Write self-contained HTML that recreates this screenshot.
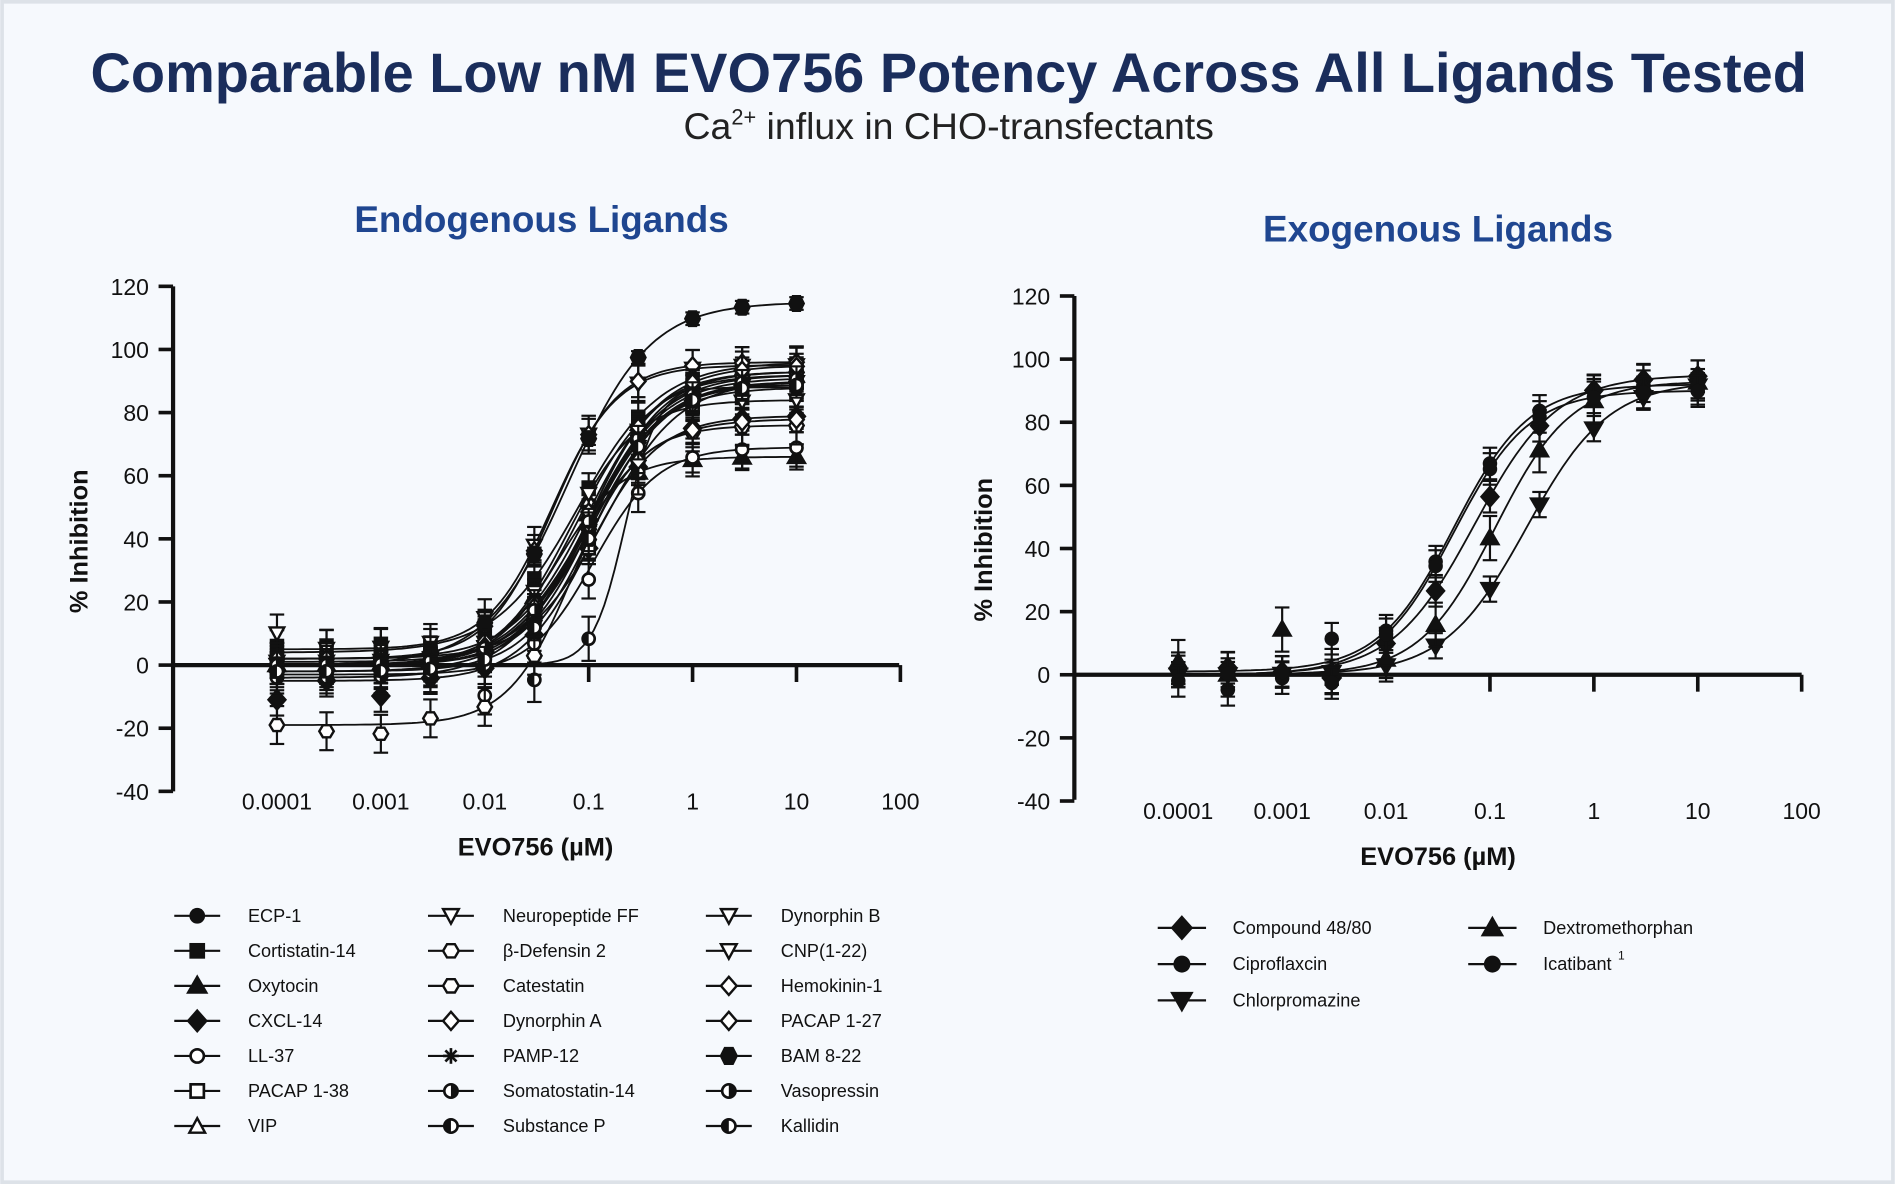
<!DOCTYPE html>
<html><head><meta charset="utf-8">
<style>
html,body{margin:0;padding:0;background:#f6f9fd;}
svg{display:block;}
text{font-family:"Liberation Sans",Arial,sans-serif;}
</style></head>
<body>
<svg id="s" width="1895" height="1184" viewBox="0 0 1568 980" xmlns="http://www.w3.org/2000/svg">
<rect x="1.5" y="1.5" width="1565" height="977" fill="#f6f9fd" stroke="#dde2e8" stroke-width="3"/>
<text x="785" y="76" text-anchor="middle" font-size="46.3" font-weight="bold" fill="#1a2d5b">Comparable Low nM EVO756 Potency Across All Ligands Tested</text>
<text x="785" y="115" text-anchor="middle" font-size="31" fill="#222">Ca<tspan font-size="18" dy="-12">2+</tspan><tspan dy="12"> influx in CHO-transfectants</tspan></text>
<text x="448" y="192" text-anchor="middle" font-size="30.5" font-weight="bold" fill="#1f4690">Endogenous Ligands</text>
<text x="1190" y="200" text-anchor="middle" font-size="30.5" font-weight="bold" fill="#1f4690">Exogenous Ligands</text>
<g id="g1"></g><g id="g2"></g><g id="leg"></g>
</svg>
<script>
const NS="http://www.w3.org/2000/svg";
function el(p,tag,a,txt){const e=document.createElementNS(NS,tag);for(const k in a)e.setAttribute(k,a[k]);if(txt!==undefined)e.textContent=txt;p.appendChild(e);return e;}
function marker(p,type,x,y,r){
 r=r||6;const k='#111';
 const poly=(pts,f)=>el(p,'polygon',{points:pts.map(q=>q.join(',')).join(' '),fill:f,stroke:k,'stroke-width':2});
 switch(type){
 case 'c':el(p,'circle',{cx:x,cy:y,r:r,fill:k});break;
 case 'oc':el(p,'circle',{cx:x,cy:y,r:r-1,fill:'#fff',stroke:k,'stroke-width':2.2});break;
 case 's':el(p,'rect',{x:x-r,y:y-r,width:2*r,height:2*r,fill:k});break;
 case 'os':el(p,'rect',{x:x-r+1,y:y-r+1,width:2*r-2,height:2*r-2,fill:'#fff',stroke:k,'stroke-width':2.2});break;
 case 't':poly([[x,y-r-1],[x+r+1,y+r-1],[x-r-1,y+r-1]],k);break;
 case 'ot':poly([[x,y-r],[x+r,y+r-1],[x-r,y+r-1]],'#fff');break;
 case 'dt':poly([[x,y+r+1],[x+r+1,y-r+1],[x-r-1,y-r+1]],k);break;
 case 'odt':poly([[x,y+r],[x+r,y-r+1],[x-r,y-r+1]],'#fff');break;
 case 'd':poly([[x,y-r-2],[x+r+1,y],[x,y+r+2],[x-r-1,y]],k);break;
 case 'od':poly([[x,y-r-1],[x+r,y],[x,y+r+1],[x-r,y]],'#fff');break;
 case 'h':poly([[x-r,y],[x-r/2,y-r],[x+r/2,y-r],[x+r,y],[x+r/2,y+r],[x-r/2,y+r]],k);break;
 case 'oh':poly([[x-r,y],[x-r/2,y-r+1],[x+r/2,y-r+1],[x+r,y],[x+r/2,y+r-1],[x-r/2,y+r-1]],'#fff');break;
 case 'st':for(let a=0;a<4;a++){const an=a*Math.PI/4;el(p,'line',{x1:x-r*Math.cos(an),y1:y-r*Math.sin(an),x2:x+r*Math.cos(an),y2:y+r*Math.sin(an),stroke:k,'stroke-width':2.2});}break;
 case 'hc':el(p,'circle',{cx:x,cy:y,r:r-1,fill:'#fff',stroke:k,'stroke-width':2.2});el(p,'path',{d:`M${x},${y-r+1} A${r-1},${r-1} 0 0 1 ${x},${y+r-1} Z`,fill:k});break;
 case 'hc2':el(p,'circle',{cx:x,cy:y,r:r-1,fill:'#fff',stroke:k,'stroke-width':2.2});el(p,'path',{d:`M${x},${y-r+1} A${r-1},${r-1} 0 0 0 ${x},${y+r-1} Z`,fill:k});break;
 }
}
function chart(gid,ox,y0,yTop,yBot,dec0,series,axisEnd,labY){
 const g=document.getElementById(gid);
 const py=v=>y0-(v)*(y0-yTop)/120;
 const px=l=>dec0+(l+4)*86;
 el(g,'line',{x1:ox,y1:yTop,x2:ox,y2:yBot,stroke:'#111','stroke-width':3.5});
 for(let v=-40;v<=120;v+=20){const y=py(v);el(g,'line',{x1:ox-12,y1:y,x2:ox,y2:y,stroke:'#111','stroke-width':3});
  el(g,'text',{x:ox-20,y:y+7,'text-anchor':'end','font-size':19,fill:'#111'},String(v));}
 el(g,'line',{x1:ox,y1:y0,x2:axisEnd,y2:y0,stroke:'#111','stroke-width':3.5});
 const labs=['0.0001','0.001','0.01','0.1','1','10','100'];
 for(let i=0;i<7;i++){const x=px(i-4);if(i>=3)el(g,'line',{x1:x,y1:y0,x2:x,y2:y0+14,stroke:'#111','stroke-width':3});
  el(g,'text',{x:x,y:labY,'text-anchor':'middle','font-size':19,fill:'#111'},labs[i]);}
 const xs=[-4,-3.523,-3,-2.523,-2,-1.523,-1,-0.523,0,0.477,1];
 for(const s of series){
  const [b,t,ic,h,type]=s;const f=l=>b+(t-b)/(1+Math.pow(10,(ic-l)*h));
  let d='';for(let l=-4;l<=1.001;l+=0.05){d+=(d?'L':'M')+px(l).toFixed(1)+','+py(f(l)).toFixed(1);}
  el(g,'path',{d:d,fill:'none',stroke:'#111','stroke-width':1.5});
  xs.forEach((l,i)=>{const v=f(l)+(s[5]?s[5][i]:0);const x=px(l),y=py(v);const e=s[6]||4;
   el(g,'line',{x1:x,y1:py(v-e),x2:x,y2:py(v+e),stroke:'#111','stroke-width':1.8});
   el(g,'line',{x1:x-6,y1:py(v+e),x2:x+6,y2:py(v+e),stroke:'#111','stroke-width':1.8});
   el(g,'line',{x1:x-6,y1:py(v-e),x2:x+6,y2:py(v-e),stroke:'#111','stroke-width':1.8});
   marker(g,type,x,y,6);});
 }
}
const N=[0,0,0,0,0,0,0,0,0,0,0];
const L=[
 [0,93,-1.0,1.3,'c',N,4],[4,96,-1.1,1.1,'s',[2,2,2,0,0,0,0,0,0,0,0],5],[0,66,-1.3,1.4,'t',N,4],
 [-5,79,-1.0,1.3,'d',[-6,0,-5,0,0,0,0,0,0,0,0],5],[-3,69,-0.95,1.4,'oc',[0,0,0,0,-9,0,-3,0,0,0,0],6],
 [2,90,-0.85,1.2,'os',N,5],[0,92,-1.1,1.2,'ot',N,4],[5,95,-1.35,1.4,'odt',[5,0,0,0,0,0,0,0,0,0,0],6],
 [-2,90,-1.0,1.2,'oh',N,4],[0,93,-0.95,1.3,'oh',N,4],[2,96,-1.35,1.4,'od',N,5],[0,92,-1.0,1.2,'st',N,4],
 [-4,88,-1.05,1.2,'hc',N,4],[0,88,-0.65,2.8,'hc2',[0,0,0,0,0,-5,0,0,0,0,0],7],[-19,76,-1.15,1.4,'oh',[0,-2,-3,1,0,0,0,0,0,0,0],6],
 [0,84,-1.2,1.3,'odt',N,4],[1,90,-0.95,1.2,'odt',N,4],[2,95,-1.0,1.2,'od',N,4],[0,78,-1.1,1.2,'od',N,4],
 [0,115,-1.2,1.1,'h',N,2],[0,91,-1.0,1.2,'hc',N,4],[-2,89,-0.95,1.3,'hc2',N,4]
];
chart('g1',143,550.5,237,655,229,L,744,670);
const R=[
 [0,95,-1.15,1.1,'d',[2,2,0,-4,0,0,0,0,0,0,0],5],[1,92,-1.35,1.2,'c',[0,-6,-3,7,0,0,0,0,0,0,0],5],
 [0,93,-0.65,1.1,'dt',N,4],[0,93,-0.95,1.2,'t',[4,0,14,0,0,0,0,0,0,0,0],7],[0,90,-1.35,1.2,'c',[-2,0,0,-6,0,0,0,0,0,0,0],5]
];
chart('g2',889,558.5,245,662,975,R,1491,678);
const s=document.getElementById('s');
el(s,'text',{x:443,y:708,'text-anchor':'middle','font-size':21,'font-weight':'bold',fill:'#111'},'EVO756 (µM)');
el(s,'text',{x:1190,y:716,'text-anchor':'middle','font-size':21,'font-weight':'bold',fill:'#111'},'EVO756 (µM)');
el(s,'text',{x:0,y:0,'text-anchor':'middle','font-size':21,'font-weight':'bold',fill:'#111',transform:'translate(72,448) rotate(-90)'},'% Inhibition');
el(s,'text',{x:0,y:0,'text-anchor':'middle','font-size':21,'font-weight':'bold',fill:'#111',transform:'translate(821,455) rotate(-90)'},'% Inhibition');
const lg=document.getElementById('leg');
const cols=[[163,205,[['c','ECP-1'],['s','Cortistatin-14'],['t','Oxytocin'],['d','CXCL-14'],['oc','LL-37'],['os','PACAP 1-38'],['ot','VIP']]],
 [373,416,[['odt','Neuropeptide FF'],['oh','β-Defensin 2'],['oh','Catestatin'],['od','Dynorphin A'],['st','PAMP-12'],['hc','Somatostatin-14'],['hc2','Substance P']]],
 [603,646,[['odt','Dynorphin B'],['odt','CNP(1-22)'],['od','Hemokinin-1'],['od','PACAP 1-27'],['h','BAM 8-22'],['hc','Vasopressin'],['hc2','Kallidin']]]];
cols.forEach(([mx,tx,items])=>items.forEach(([t,n],i)=>{const y=758+i*29;
 el(lg,'line',{x1:mx-19,y1:y,x2:mx+19,y2:y,stroke:'#111','stroke-width':1.8});marker(lg,t,mx,y,6.5);
 el(lg,'text',{x:tx,y:y+5,'font-size':15,fill:'#111'},n);}));
const rc=[[978,1020,[['d','Compound 48/80'],['c','Ciproflaxcin'],['dt','Chlorpromazine']]],[1235,1277,[['t','Dextromethorphan'],['c','Icatibant']]]];
rc.forEach(([mx,tx,items])=>items.forEach(([t,n],i)=>{const y=768+i*30;
 el(lg,'line',{x1:mx-20,y1:y,x2:mx+20,y2:y,stroke:'#111','stroke-width':1.8});marker(lg,t,mx,y,7);
 el(lg,'text',{x:tx,y:y+5,'font-size':15,fill:'#111'},n);}));
el(lg,'text',{x:1339,y:794,'font-size':10,fill:'#111'},'1');
</script>
</body></html>
